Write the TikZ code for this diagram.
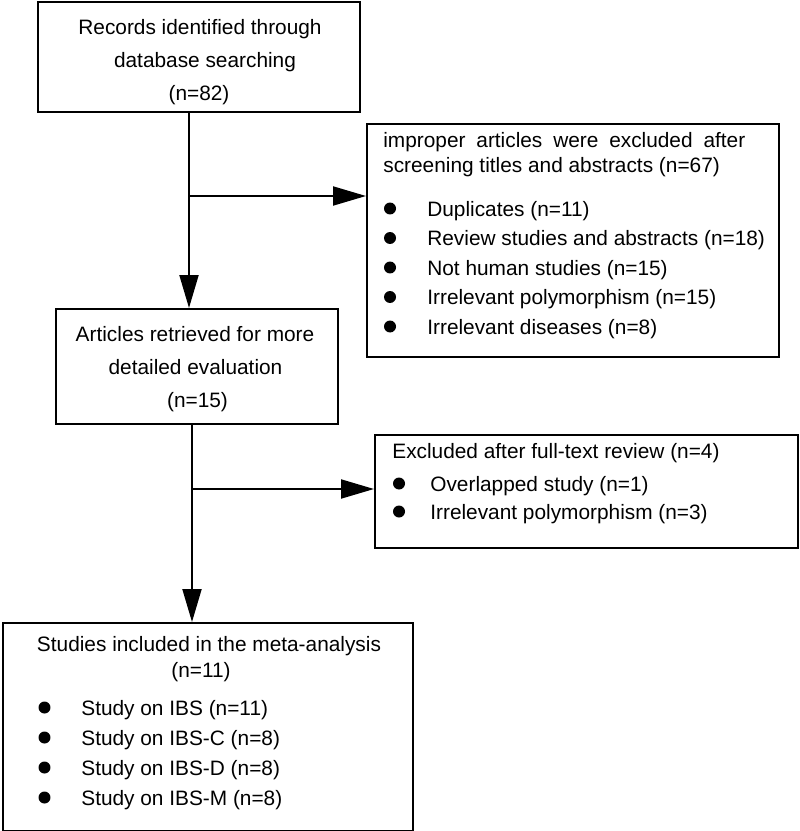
\documentclass[tikz,border=0pt]{standalone}
\usepackage{fontspec}
\setmainfont{Liberation Sans}
\usetikzlibrary{arrows.meta}
\tikzset{
    % Boxes of the flow chart
    box/.style={
        draw=black,
        line width=0.04cm,
        rectangle,
        anchor=north west,
        inner sep=0pt,
    },
    % Text lines
    txt/.style={
        inner sep=0pt,
        font=\fontsize{11.86pt}{14pt}\selectfont,
        anchor=base,
    },
    item/.style={
        txt,
        anchor=base west,
    },
    % Bullets
    dot/.style={
        circle,
        fill=black,
        inner sep=0pt,
        minimum size=0.24cm,
    },
    % Arrows
    flow/.style={
        line width=0.04cm,
        -{Triangle[length=0.66cm,width=0.38cm]},
    },
}

\begin{document}
\begin{tikzpicture}[x=0.02cm,y=-0.02cm]
    \useasboundingbox (0,0) rectangle (800,831);

    % Draw boxes
    \node[box, minimum width=6.44cm, minimum height=2.2cm] (rec) at (37,1) {};
    \node[box, minimum width=8.24cm, minimum height=4.66cm] (scr) at (366,123) {};
    \node[box, minimum width=5.64cm, minimum height=2.3cm] (art) at (55,308) {};
    \node[box, minimum width=8.46cm, minimum height=2.26cm] (ful) at (374,434) {};
    \node[box, minimum width=8.2cm, minimum height=4.16cm] (inc) at (2,622) {};

    % Records
    \foreach \x/\y/\t [count=\i] in {200/34.5/Records identified through,
            205/67.5/database searching, 199/100.5/(n=82)}
        \node[txt] (rec-\i) at (\x,\y) {\t};

    % Screening
    \node[item] (scr-h1) at (383,147.5)
        {\makebox[7.24cm][s]{improper articles were excluded after}};
    \node[item] (scr-h2) at (383,173) {screening titles and abstracts (n=67)};
    \foreach \t [count=\i] in {Duplicates (n=11), Review studies and abstracts (n=18),
            Not human studies (n=15), Irrelevant polymorphism (n=15),
            Irrelevant diseases (n=8)} {
        \node[dot] (scr-d\i) at (390,179+29.5*\i) {};
        \node[item] (scr-\i) at (427,186.5+29.5*\i) {\t};
    }

    % Articles
    \foreach \x/\y/\t [count=\i] in {195/341/Articles retrieved for more,
            195.5/374.3/detailed evaluation, 197.5/407.5/(n=15)}
        \node[txt] (art-\i) at (\x,\y) {\t};

    % Full-text review
    \node[item] (ful-h) at (392,458) {Excluded after full-text review (n=4)};
    \foreach \t [count=\i] in {Overlapped study (n=1), Irrelevant polymorphism (n=3)} {
        \node[dot] (ful-d\i) at (399,455.5+28*\i) {};
        \node[item] (ful-\i) at (430,463+28*\i) {\t};
    }

    % Included studies
    \node[txt] (inc-h1) at (209,651) {Studies included in the meta-analysis};
    \node[txt] (inc-h2) at (201,677) {(n=11)};
    \foreach \t [count=\i] in {Study on IBS (n=11), Study on IBS-C (n=8),
            Study on IBS-D (n=8), Study on IBS-M (n=8)} {
        \node[dot] (inc-d\i) at (44.5,677.5+30*\i) {};
        \node[item] (inc-\i) at (81,685+30*\i) {\t};
    }

    % Arrows
    \coordinate (b1) at (189,196);
    \coordinate (b2) at (192,489);
    \draw[flow] (rec.south -| b1) -- (art.north -| b1);
    \draw[flow] (b1) -- (b1 -| scr.west);
    \draw[flow] (art.south -| b2) -- (inc.north -| b2);
    \draw[flow] (b2) -- (b2 -| ful.west);
\end{tikzpicture}
\end{document}
